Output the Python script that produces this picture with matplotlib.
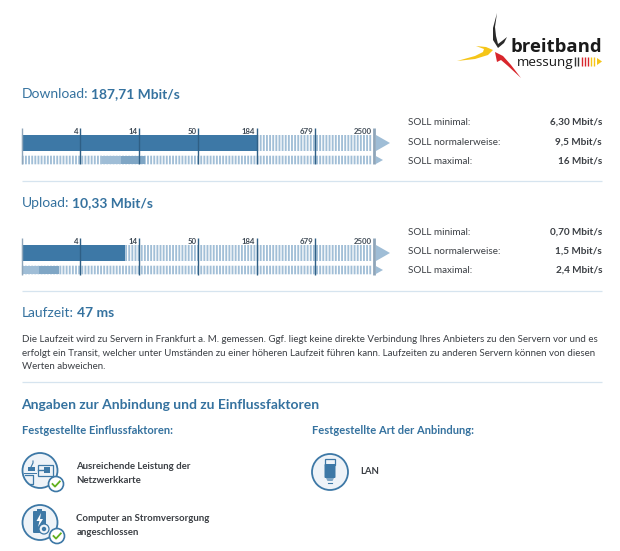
import numpy as np
import matplotlib
matplotlib.use("Agg")
import matplotlib.pyplot as plt
from matplotlib.patches import Circle, Polygon, Rectangle, FancyBboxPatch

# ---- data ----
tick_values = [1, 4, 14, 50, 184, 679, 2500]
tick_labels = ["", "4", "14", "50", "184", "679", "2500"]
download_value = 187.71
upload_value = 10.33
download_soll = [6.30, 9.5, 16]
upload_soll = [0.70, 1.5, 2.4]
download_soll_text = ["6,30 Mbit/s", "9,5 Mbit/s", "16 Mbit/s"]
upload_soll_text = ["0,70 Mbit/s", "1,5 Mbit/s", "2,4 Mbit/s"]
soll_labels = ["SOLL minimal:", "SOLL normalerweise:", "SOLL maximal:"]

FONT = "Lato"
BLUE = "#35729f"
BAR = "#3d78a6"
STRIPE = "#a2bfd7"
LIGHT = "#9fbdd6"
MID = "#7fa6c5"
TICK = "#2f5f85"
TEXT = "#3b3f44"
RULE = "#d6e4ef"

W, H = 620, 551
fig = plt.figure(figsize=(W / 100, H / 100), dpi=100, facecolor="white")
bg = fig.add_axes([0, 0, 1, 1])
bg.set_xlim(0, W)
bg.set_ylim(H, 0)
bg.axis("off")


def T(x, y, s, size=7.2, color=TEXT, weight="normal", ha="left", family=FONT, **kw):
    return bg.text(x, y + size * 0.5, s, fontsize=size, color=color, fontweight=weight, ha=ha,
                   va="baseline", family=family, **kw)


def heading(x, y, a, b, size=10.0):
    t = T(x, y, a, size=size, color=BLUE)
    fig.canvas.draw()
    e = t.get_window_extent()
    T(e.x1 + 3.2, y, b, size=size, color=BLUE, weight="bold")


# log-like tick scale: equally spaced ticks
logt = np.log10(tick_values)
idx = np.arange(len(tick_values), dtype=float)


def fwd(v):
    v = np.maximum(np.asarray(v, dtype=float), 1e-6)
    return np.interp(np.log10(v), logt, idx)


def inv(u):
    return 10 ** np.interp(np.asarray(u, dtype=float), idx, logt)


def meter(top, value, soll):
    ubar = top + 7
    lbar = top + 27.7
    xs = np.arange(22.8, 373, 3.13)
    a = bg.vlines(xs, ubar, ubar + 16, color=STRIPE, lw=1.35)
    b = bg.vlines(xs, lbar, lbar + 8.6, color=STRIPE, lw=1.35)
    a.set_snap(False)
    b.set_snap(False)
    bg.add_patch(Polygon([[376, ubar], [390, ubar + 8], [376, ubar + 16]], color=LIGHT, lw=0))
    bg.add_patch(Polygon([[376, lbar + .4], [383, lbar + 4.3], [376, lbar + 8.2]], color=LIGHT, lw=0))
    ax = fig.add_axes([21.7 / W, 1 - (top + 36.5) / H, (374 - 21.7) / W, 36.5 / H])
    ax.patch.set_alpha(0)
    ax.set_xscale("function", functions=(fwd, inv))
    ax.set_xlim(1, 2500)
    ax.set_ylim(36.5, 0)
    ax.axis("off")
    ax.barh(15, value - 1, left=1, height=16, color=BAR, lw=0)
    ax.barh(32, soll[1] - soll[0], left=soll[0], height=8.6, color=LIGHT, lw=0)
    ax.barh(32, soll[2] - soll[1], left=soll[1], height=8.6, color=MID, lw=0)
    for v, lab in zip(tick_values, tick_labels):
        last = v == tick_values[-1]
        first = v == tick_values[0]
        ax.vlines(v, 0, 36.5, color="#8fa6ba" if first or last else TICK,
                  lw=2.0 if last else 1.0, clip_on=False)
        if lab:
            ax.annotate(lab, (v, 0), xytext=(-1.2 if not last else -1.8, -4.2), textcoords="offset points",
                        ha="right", va="baseline", fontsize=5.6, fontweight="bold",
                        color="#3f4a55", family=FONT, annotation_clip=False)


def table(ys, vals):
    for y, lab, val in zip(ys, soll_labels, vals):
        T(408, y, lab, size=7.15)
        T(602, y, val, size=7.2, weight="bold", ha="right")


# logo
bg.add_patch(Polygon([[497, 13], [493, 28], [493, 40], [498, 48], [504, 43], [507, 37], [502, 41],
                      [498, 44], [496, 36], [495, 27]], color="#2a2a2a", lw=0))
bg.add_patch(Polygon([[457, 61], [475, 56], [483, 52], [484, 49], [476, 46], [486, 47], [493, 50],
                      [488, 55], [475, 59]], color="#f5c518", lw=0))
bg.add_patch(Polygon([[495, 52], [503, 56], [511, 65], [521, 78], [508, 66], [501, 60], [497, 62]],
                     color="#d8262c", lw=0))
T(511, 45.5, "breitband", size=13.3, color="#1a1a1a", weight="bold", family="Open Sans")
T(516.5, 61.5, "messung", size=9.7, color="#1a1a1a", family="Open Sans")
for x, c in [(575, "#333333"), (578, "#333333"), (582, "#d8262c"), (585, "#d8262c"), (588, "#d8262c"),
             (591, "#f5c518"), (594, "#f5c518")]:
    bg.vlines(x, 57, 66, color=c, lw=1.0)
bg.add_patch(Polygon([[597, 58], [602, 61.5], [597, 65]], color="#f5c518", lw=0))

# download
heading(21.5, 93, "Download:", "187,71 Mbit/s")
meter(128, download_value, download_soll)
table([121, 141, 160], download_soll_text)
bg.hlines(181, 22, 602, color=RULE, lw=0.9)

# upload
heading(21.5, 202, "Upload:", "10,33 Mbit/s")
meter(238, upload_value, upload_soll)
table([231, 250, 269], upload_soll_text)
bg.hlines(291, 22, 602, color=RULE, lw=0.9)

# laufzeit
heading(21.5, 312, "Laufzeit:", "47 ms")
T(21.5, 338.5, "Die Laufzeit wird zu Servern in Frankfurt a. M. gemessen. Ggf. liegt keine direkte Verbindung Ihres Anbieters zu den Servern vor und es", size=7.03)
T(21.5, 352, "erfolgt ein Transit, welcher unter Umständen zu einer höheren Laufzeit führen kann. Laufzeiten zu anderen Servern können von diesen", size=7.03)
T(21.5, 365.5, "Werten abweichen.", size=7.03)
bg.hlines(382, 22, 602, color=RULE, lw=0.9)

T(21.5, 404, "Angaben zur Anbindung und zu Einflussfaktoren", size=10.0, color=BLUE, weight="bold")
T(21.5, 430.5, "Festgestellte Einflussfaktoren:", size=8.0, color=BLUE, weight="bold")
T(311.5, 430.5, "Festgestellte Art der Anbindung:", size=8.0, color=BLUE, weight="bold")
T(76.5, 466, "Ausreichende Leistung der", size=6.95, weight="bold")
T(76.5, 480, "Netzwerkkarte", size=6.95, weight="bold")
T(76.5, 518, "Computer an Stromversorgung", size=6.95, weight="bold")
T(76.5, 532, "angeschlossen", size=6.95, weight="bold")
T(360.5, 471, "LAN", size=6.95, weight="bold")


def icon(cx, cy, r=17.5):
    bg.add_patch(Circle((cx, cy), r, fc="#eef3f8", ec=BAR, lw=1.3, zorder=2))


def check(cx, cy):
    bg.add_patch(Circle((cx, cy), 7.5, fc="white", ec=BAR, lw=1.2, zorder=5))
    bg.plot([cx - 3.5, cx - 1, cx + 3.8], [cy, cy + 2.6, cy - 2.6], color="#62b01e", lw=1.3, zorder=6)


# network card icon
icon(40, 470.5)
bg.add_patch(Rectangle((38, 465), 15, 11, fc="#eef3f8", ec=BAR, lw=0.9, zorder=3))
bg.add_patch(Rectangle((44, 467), 6, 6, fc=BAR, lw=0, zorder=4))
bg.plot([38, 44], [470, 470], color=BAR, lw=1, zorder=4)
bg.add_patch(Rectangle((28, 467), 7, 4, fc=BAR, lw=0, zorder=4))
bg.plot([31, 33, 33], [467, 463, 461], color=BAR, lw=0.8, zorder=4)
bg.plot([25, 33, 33, 30], [475, 475, 484, 484], color=BAR, lw=0.9, zorder=3)
bg.plot([24, 36], [473, 473], color=BAR, lw=0.7, zorder=3)
check(56, 484)

# battery icon
icon(40, 522.5)
bg.add_patch(FancyBboxPatch((33, 511), 13, 22, boxstyle="round,pad=0,rounding_size=1", fc=BAR, lw=0, zorder=3))
bg.add_patch(Rectangle((37, 508.5), 5, 2.5, fc=BAR, lw=0, zorder=3))
bg.add_patch(Polygon([[41, 513], [36.5, 521], [39.5, 521], [38, 527], [43, 519], [40, 519]], fc="white", lw=0, zorder=4))
bg.add_patch(Circle((44, 529), 5, fc="#eef3f8", ec=BAR, lw=0.9, zorder=4))
bg.add_patch(Circle((44, 529), 2.2, fc=BAR, lw=0, zorder=5))
check(57, 536)

# LAN icon
icon(330, 472, 18)
bg.add_patch(Rectangle((325, 459), 10, 5.5, fc="#eef3f8", ec=BAR, lw=0.9, zorder=3))
bg.add_patch(FancyBboxPatch((324.5, 464), 11, 14, boxstyle="round,pad=0,rounding_size=1", fc=BAR, lw=0, zorder=3))
bg.add_patch(Polygon([[326, 478], [334, 478], [332.5, 481], [327.5, 481]], fc=MID, lw=0, zorder=3))
bg.plot([328, 332], [483, 483], color=BAR, lw=0.8, zorder=3)

fig.savefig("out.png", dpi=100, facecolor="white")
